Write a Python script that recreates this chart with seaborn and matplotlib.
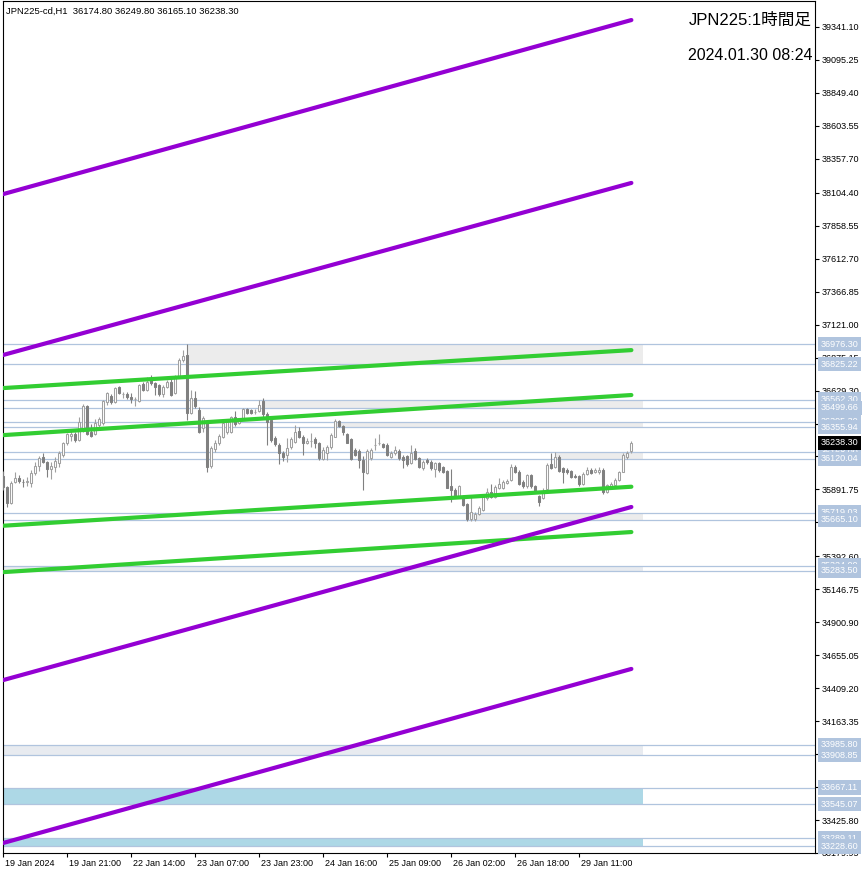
import numpy as np
import pandas as pd
import matplotlib
matplotlib.use('Agg')
import matplotlib.pyplot as plt
import matplotlib.transforms as mtransforms
import seaborn as sns

sns.set_theme(style='white')
plt.rcParams['font.family'] = ['Liberation Sans', 'Noto Sans CJK JP', 'DejaVu Sans']

# ---------------- data ----------------
opens = [35991, 35909, 35790, 35947, 35977, 35950, 35948, 35940, 36014, 36066,
         36133, 36096, 36044, 36059, 36088, 36148, 36238, 36290, 36305, 36260,
         36350, 36514, 36320, 36305, 36372, 36387, 36544, 36588, 36544, 36656,
         36603, 36603, 36581, 36566, 36551, 36678, 36633, 36708, 36685, 36671,
         36603, 36656, 36693, 36611, 36738, 36857, 36894, 36462, 36574, 36484,
         36350, 36387, 36066, 36193, 36238, 36283, 36320, 36320, 36432, 36387,
         36424, 36491, 36484, 36469, 36476, 36551, 36455, 36410, 36275, 36225,
         36165, 36150, 36210, 36245, 36330, 36285, 36240, 36255, 36270, 36240,
         36120, 36165, 36205, 36285, 36400, 36365, 36305, 36265, 36185, 36180,
         36110, 36015, 36125, 36225, 36240, 36230, 36225, 36135, 36160, 36175,
         36135, 36140, 36090, 36180, 36125, 36050, 36110, 36100, 36045, 36090,
         36060, 36030, 35917, 35890, 35845, 35840, 35780, 35670, 35670, 35705,
         35740, 35825, 35875, 35835, 35900, 35905, 35940, 35960, 36060, 36025,
         35950, 35915, 36000, 35915, 35840, 35830, 35895, 36080, 36060, 36135,
         36050, 36035, 36030, 35995, 35990, 35935, 36010, 36035, 36025, 36020,
         36040, 35875, 35915, 35925, 35960, 36025, 36135, 36174.80]
highs = [36029, 35917, 35954, 36021, 36000, 35970, 35985, 36037, 36096, 36141,
         36163, 36103, 36096, 36133, 36178, 36245, 36312, 36342, 36320, 36432,
         36529, 36521, 36380, 36417, 36432, 36559, 36618, 36603, 36656, 36663,
         36618, 36618, 36611, 36581, 36678, 36693, 36730, 36745, 36693, 36678,
         36671, 36708, 36723, 36745, 36872, 36932, 36976, 36633, 36626, 36507,
         36439, 36410, 36216, 36260, 36305, 36402, 36410, 36439, 36476, 36424,
         36499, 36499, 36491, 36491, 36562, 36575, 36470, 36425, 36290, 36240,
         36180, 36275, 36285, 36370, 36355, 36300, 36275, 36315, 36285, 36245,
         36210, 36225, 36310, 36415, 36410, 36375, 36315, 36275, 36200, 36190,
         36140, 36190, 36200, 36275, 36305, 36240, 36235, 36175, 36215, 36190,
         36145, 36150, 36225, 36200, 36135, 36115, 36125, 36115, 36100, 36100,
         36070, 36040, 36045, 35900, 35925, 35850, 35790, 35840, 35720, 35770,
         35850, 35900, 35935, 35925, 35975, 35960, 35970, 36080, 36075, 36035,
         35960, 36005, 36010, 35925, 35850, 35905, 36090, 36165, 36170, 36145,
         36060, 36050, 36040, 36005, 36000, 36020, 36060, 36055, 36055, 36060,
         36050, 35935, 35945, 35980, 36030, 36160, 36180, 36249.80]
lows = [35887, 35760, 35783, 35940, 35940, 35910, 35917, 35910, 35999, 36029,
        36088, 35984, 35969, 36022, 36059, 36133, 36223, 36253, 36245, 36253,
        36320, 36297, 36283, 36297, 36357, 36372, 36521, 36529, 36536, 36603,
        36573, 36566, 36536, 36514, 36544, 36626, 36626, 36671, 36596, 36588,
        36581, 36648, 36588, 36603, 36723, 36842, 36410, 36454, 36499, 36312,
        36320, 36022, 36051, 36171, 36223, 36275, 36305, 36312, 36365, 36380,
        36410, 36454, 36454, 36454, 36469, 36425, 36225, 36245, 36215, 36080,
        36105, 36095, 36195, 36240, 36275, 36150, 36230, 36210, 36200, 36110,
        36110, 36110, 36195, 36280, 36355, 36300, 36235, 36115, 36140, 36055,
        35890, 36005, 36110, 36185, 36220, 36200, 36140, 36125, 36150, 36115,
        36050, 36070, 36080, 36110, 36050, 36040, 36080, 36040, 35985, 36025,
        36015, 35900, 35800, 35830, 35835, 35765, 35660, 35660, 35660, 35700,
        35730, 35815, 35825, 35825, 35895, 35895, 35935, 35955, 36015, 35925,
        35905, 35905, 35905, 35865, 35770, 35820, 35890, 36045, 36050, 36020,
        35940, 36010, 35975, 35975, 35920, 35925, 36000, 36005, 36015, 36010,
        35860, 35865, 35905, 35915, 35955, 36020, 36120, 36165.10]
closes = [35909, 35790, 35939, 35977, 35954, 35945, 35955, 36014, 36066, 36126,
          36096, 36044, 36066, 36103, 36163, 36238, 36305, 36305, 36260, 36395,
          36514, 36305, 36290, 36387, 36417, 36551, 36611, 36544, 36648, 36611,
          36605, 36581, 36566, 36568, 36671, 36633, 36693, 36685, 36656, 36603,
          36656, 36693, 36596, 36738, 36857, 36887, 36462, 36574, 36514, 36320,
          36424, 36059, 36201, 36238, 36290, 36387, 36395, 36432, 36380, 36417,
          36491, 36462, 36462, 36470, 36521, 36455, 36395, 36260, 36230, 36165,
          36135, 36200, 36270, 36320, 36285, 36240, 36255, 36255, 36240, 36125,
          36185, 36210, 36300, 36400, 36365, 36320, 36240, 36120, 36150, 36110,
          36025, 36175, 36185, 36225, 36240, 36210, 36150, 36165, 36185, 36125,
          36110, 36080, 36160, 36120, 36060, 36100, 36095, 36050, 36090, 36035,
          36025, 35905, 35890, 35845, 35915, 35775, 35670, 35720, 35705, 35755,
          35840, 35870, 35835, 35910, 35935, 35950, 35955, 36060, 36025, 35935,
          35915, 36000, 35915, 35875, 35800, 35880, 36075, 36055, 36135, 36030,
          36025, 36025, 35985, 35985, 35935, 36010, 36035, 36015, 36035, 36040,
          35875, 35925, 35930, 35960, 36025, 36150, 36165, 36238.30]

x_tick_bars = [0, 16, 32, 48, 64, 80, 96, 112, 128, 144]
x_tick_labels = ['19 Jan 2024', '19 Jan 21:00', '22 Jan 14:00', '23 Jan 07:00',
                 '23 Jan 23:00', '24 Jan 16:00', '25 Jan 09:00', '26 Jan 02:00',
                 '26 Jan 18:00', '29 Jan 11:00']

y_ticks = [39341.10, 39095.25, 38849.40, 38603.55, 38357.70, 38104.40, 37858.55,
           37612.70, 37366.85, 37121.00, 36875.15, 36629.30, 36383.45, 36137.60,
           35891.75, 35645.90, 35392.60, 35146.75, 34900.90, 34655.05, 34409.20,
           34163.35, 33917.50, 33671.65, 33425.80, 33179.95]

levels = [36976.30, 36825.22, 36562.30, 36499.66, 36395.30, 36355.94, 36168.00,
          36120.04, 35719.03, 35665.10, 35324.00, 35283.50, 33985.80, 33908.85,
          33667.11, 33545.07, 33289.11, 33228.60]

zone_start = [46, 65, 83, 138, 117, None, None, None, None]
zone_high = [36976.30, 36562.30, 36395.30, 36168.00, 35719.03, 35324.00, 33985.80, 33667.11, 33289.11]
zone_low = [36825.22, 36499.66, 36355.94, 36120.04, 35665.10, 35283.50, 33908.85, 33545.07, 33228.60]
zone_kind = ['grey', 'grey', 'grey', 'grey', 'grey', 'pale', 'pale', 'blue', 'blue']
zone_end_bar = 160

green_start = [36648, 36297, 35621, 35275]
green_end = [36931, 36596, 35912, 35574]
purple_start = [38095, 36895, 34470, 33255]
purple_end = [39393, 38178, 35761, 34553]
line_bar0, line_bar1 = 0, 157

last_price = 36238.30
header = 'JPN225-cd,H1  36174.80 36249.80 36165.10 36238.30'
title1 = 'JPN225:1時間足'
title2 = '2024.01.30 08:24'

# ---------------- figure ----------------
W, H = 866, 876
fig = plt.figure(figsize=(W / 100, H / 100), dpi=100)
ax = fig.add_axes([3 / W, 23 / H, 812 / W, 852 / H])
ax.set_facecolor('white')

XL = (-0.075, 202.9)
YL = (33179.95, 39535)
ax.set_xlim(*XL)
ax.set_ylim(*YL)

zone_colors = {'grey': '#ececec', 'pale': '#e8ebf0', 'blue': '#add8e6'}
for s, hi, lo, k in zip(zone_start, zone_high, zone_low, zone_kind):
    x0 = XL[0] if s is None else s
    ax.fill_between([x0, zone_end_bar], lo, hi, color=zone_colors[k], lw=0, zorder=0.6)

for lv in levels:
    ax.axhline(lv, color='#b0c4de', lw=0.9, zorder=1)

# candles
o = np.array(opens, float); c = np.array(closes, float)
h = np.array(highs, float); l = np.array(lows, float)
idx = np.arange(len(o))
bull = c >= o
bull_col, bear_col = '#a0a0a0', '#808080'
ax.vlines(idx[bull], l[bull], h[bull], color=bull_col, lw=0.8, zorder=3)
ax.vlines(idx[~bull], l[~bull], h[~bull], color=bear_col, lw=0.8, zorder=3)
bottom = np.minimum(o, c)
height = np.maximum(np.abs(c - o), 1.0)
ax.bar(idx[bull], height[bull], bottom=bottom[bull], width=0.56, facecolor='white',
       edgecolor=bull_col, lw=0.75, zorder=4)
ax.bar(idx[~bull], height[~bull], bottom=bottom[~bull], width=0.56, facecolor=bear_col,
       edgecolor=bear_col, lw=0.75, zorder=4)

# channel lines
rows = []
for k, (a, b) in enumerate(zip(green_start, green_end)):
    rows += [('g%d' % k, 'green', line_bar0, a), ('g%d' % k, 'green', line_bar1, b)]
for k, (a, b) in enumerate(zip(purple_start, purple_end)):
    rows += [('p%d' % k, 'purple', line_bar0, a), ('p%d' % k, 'purple', line_bar1, b)]
lines_df = pd.DataFrame(rows, columns=['line', 'kind', 'bar', 'price'])
sns.lineplot(data=lines_df[lines_df.kind == 'green'], x='bar', y='price', units='line',
             estimator=None, color='#32cd32', lw=3.0, ax=ax, zorder=6)
sns.lineplot(data=lines_df[lines_df.kind == 'purple'], x='bar', y='price', units='line',
             estimator=None, color='#9400d3', lw=3.0, ax=ax, zorder=6)
ax.set_xlim(*XL)
ax.set_ylim(*YL)
ax.set_xlabel('')
ax.set_ylabel('')

# axes / ticks
for sp in ax.spines.values():
    sp.set_color('black')
    sp.set_linewidth(0.8)
ax.yaxis.tick_right()
ax.set_yticks(y_ticks)
ax.set_yticklabels(['%.2f' % v for v in y_ticks])
ax.tick_params(axis='y', which='both', right=True, left=False, direction='out', length=3,
               width=0.8, pad=2, labelsize=6.5, colors='black')
ax.set_xticks(x_tick_bars)
ax.set_xticklabels(x_tick_labels, ha='left')
ax.tick_params(axis='x', which='both', bottom=True, direction='out', length=3, width=0.8,
               pad=1.5, labelsize=6.5, colors='black')
off = mtransforms.ScaledTranslation(2 / 100, 0, fig.dpi_scale_trans)
for lab in ax.get_xticklabels():
    lab.set_transform(lab.get_transform() + off)
ax.grid(False)

# level labels on the price axis
ytr = ax.get_yaxis_transform()
for lv in levels:
    ax.text(1.0 + 6 / 812, lv, '%.2f' % lv, transform=ytr, ha='left', va='center',
            fontsize=6.5, color='white', clip_on=False, zorder=10,
            bbox=dict(boxstyle='square,pad=0.3', fc='#b0c4de', ec='none'))
ax.text(1.0 + 6 / 812, last_price, '%.2f' % last_price, transform=ytr, ha='left',
        va='center', fontsize=6.5, color='white', clip_on=False, zorder=11,
        bbox=dict(boxstyle='square,pad=0.3', fc='black', ec='none'))

# header texts
fig.text(6 / W, 1 - 11 / H, header, ha='left', va='center', fontsize=6.8, color='black')
fig.text(812 / W, 1 - 20 / H, title1, ha='right', va='center', fontsize=12, color='black')
fig.text(812 / W, 1 - 55 / H, title2, ha='right', va='center', fontsize=11.5, color='black')

fig.savefig('out.png', dpi=100, facecolor='white')
